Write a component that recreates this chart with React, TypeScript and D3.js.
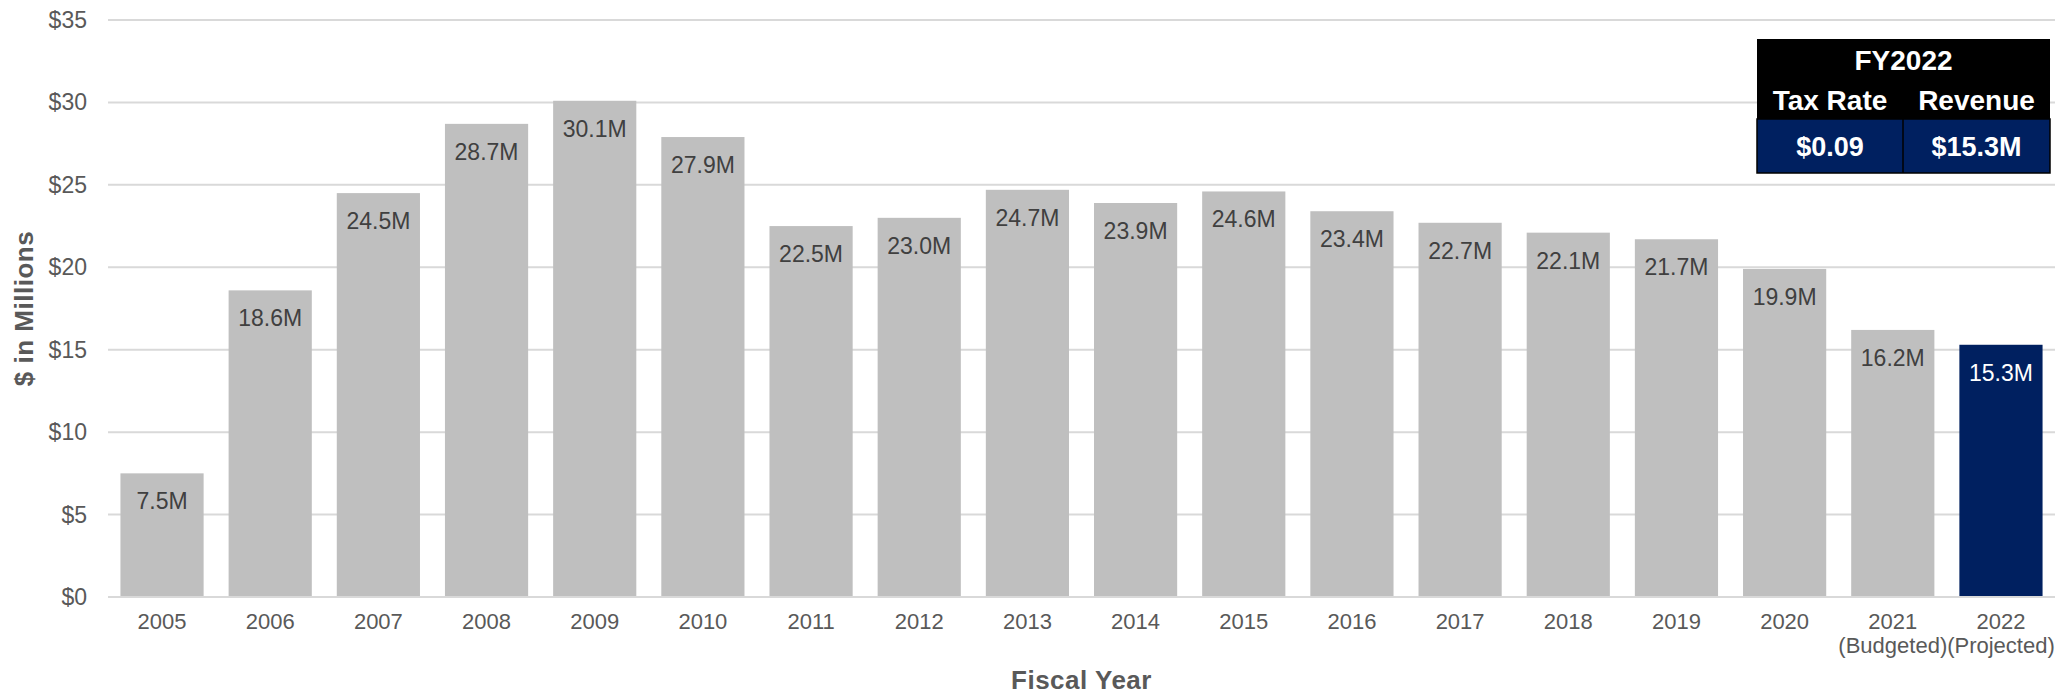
import React from "react";
import * as d3 from "d3";

const years = ["2005","2006","2007","2008","2009","2010","2011","2012","2013","2014","2015","2016","2017","2018","2019","2020","2021","2022"];
const subLabels = ["","","","","","","","","","","","","","","","","(Budgeted)","(Projected)"];
const revenue = [7.5,18.6,24.5,28.7,30.1,27.9,22.5,23.0,24.7,23.9,24.6,23.4,22.7,22.1,21.7,19.9,16.2,15.3];
const highlight = ["2022"];
const yTicks = [0,5,10,15,20,25,30,35];
const tableTitle = "FY2022";
const tableHeaders = ["Tax Rate","Revenue"];
const tableValues = ["$0.09","$15.3M"];

const W = 2059, H = 696;
const left = 108, right = 2055, top = 20, bottom = 597;
const FONT = "'Liberation Sans', Arial, sans-serif";

export default function App() {
  const x = d3.scaleBand<string>().domain(years).range([left, right]).paddingInner(0.231).paddingOuter(0.115);
  const y = d3.scaleLinear().domain([0, 35]).range([bottom, top]);

  const tx = 1757, tw = 293, tdiv = 1903;
  return (
    <svg width={W} height={H} style={{ position: "absolute", left: 0, top: 0 }} fontFamily={FONT}>
      <rect width={W} height={H} fill="#fff" />
      {yTicks.map(t => (
        <g key={t}>
          <line x1={left} x2={right} y1={y(t)} y2={y(t)} stroke="#d9d9d9" strokeWidth={2} />
          <text x={87} y={y(t)} dy="0.35em" textAnchor="end" fontSize={23} fill="#595959">${t}</text>
        </g>
      ))}
      {years.map((yr, i) => {
        const hl = highlight.includes(yr);
        const bx = x(yr)!;
        const bw = x.bandwidth();
        return (
          <g key={yr}>
            <rect x={bx} y={y(revenue[i])} width={bw} height={y(0) - y(revenue[i])} fill={hl ? "#002060" : "#bfbfbf"} />
            <text x={bx + bw / 2} y={y(revenue[i]) + 36} textAnchor="middle" fontSize={23} fill={hl ? "#ffffff" : "#404040"}>
              {revenue[i].toFixed(1)}M
            </text>
            <text x={bx + bw / 2} y={629} textAnchor="middle" fontSize={22} fill="#595959">{yr}</text>
            {subLabels[i] && (
              <text x={bx + bw / 2} y={653} textAnchor="middle" fontSize={22} fill="#595959">{subLabels[i]}</text>
            )}
          </g>
        );
      })}
      <line x1={left} x2={right} y1={y(0)} y2={y(0)} stroke="#d9d9d9" strokeWidth={2} />
      <text x={(left + right) / 2} y={689} textAnchor="middle" fontSize={26} letterSpacing={0.5} fontWeight="bold" fill="#595959">Fiscal Year</text>
      <text transform={`translate(33,${(top + bottom) / 2}) rotate(-90)`} textAnchor="middle" fontSize={26} letterSpacing={0.5} fontWeight="bold" fill="#595959">$ in Millions</text>

      <rect x={tx} y={39} width={tw} height={80} fill="#000" />
      <rect x={tx} y={119} width={tw} height={54} fill="#002060" stroke="#000" strokeWidth={1.5} />
      <line x1={tdiv} x2={tdiv} y1={119} y2={173} stroke="#000" strokeWidth={1.5} />
      <text x={tx + tw / 2} y={60} dy="0.35em" textAnchor="middle" fontSize={28} fontWeight="bold" fill="#fff">{tableTitle}</text>
      <text x={(tx + tdiv) / 2} y={100} dy="0.35em" textAnchor="middle" fontSize={28} fontWeight="bold" fill="#fff">{tableHeaders[0]}</text>
      <text x={(tdiv + tx + tw) / 2} y={100} dy="0.35em" textAnchor="middle" fontSize={28} fontWeight="bold" fill="#fff">{tableHeaders[1]}</text>
      <text x={(tx + tdiv) / 2} y={147} dy="0.35em" textAnchor="middle" fontSize={27} fontWeight="bold" fill="#fff">{tableValues[0]}</text>
      <text x={(tdiv + tx + tw) / 2} y={147} dy="0.35em" textAnchor="middle" fontSize={27} fontWeight="bold" fill="#fff">{tableValues[1]}</text>
    </svg>
  );
}
